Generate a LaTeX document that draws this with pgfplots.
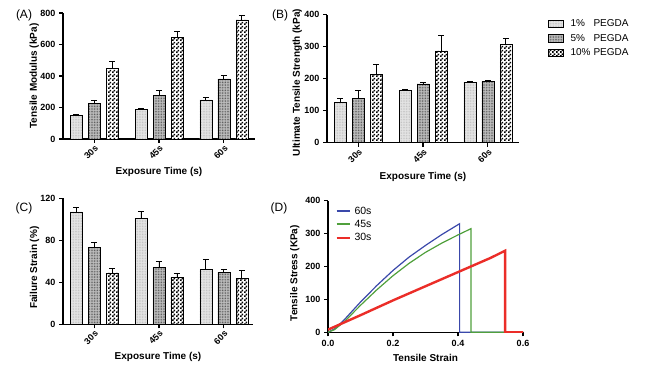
\documentclass[border=0pt]{standalone}
\usepackage{fontspec}
\setmainfont{Liberation Sans}
\usepackage{pgfplots}
\pgfplotsset{compat=1.18}
\usetikzlibrary{patterns}
\pgfdeclarepatternformonly{smallcheck}{\pgfqpoint{0pt}{0pt}}{\pgfqpoint{4pt}{4pt}}{\pgfqpoint{4pt}{4pt}}{%
  \pgfpathrectangle{\pgfqpoint{0pt}{0pt}}{\pgfqpoint{2pt}{2pt}}%
  \pgfpathrectangle{\pgfqpoint{2pt}{2pt}}{\pgfqpoint{2pt}{2pt}}%
  \pgfusepath{fill}}
\pgfdeclarepatternformonly{finedots}{\pgfqpoint{-0.5pt}{-0.5pt}}{\pgfqpoint{0.5pt}{0.5pt}}{\pgfqpoint{1.6pt}{1.6pt}}{%
  \pgfpathcircle{\pgfpointorigin}{0.45pt}\pgfusepath{fill}}
\definecolor{c60}{RGB}{58,72,170}
\definecolor{c45}{RGB}{80,160,60}
\definecolor{c30}{RGB}{235,45,40}
\pgfplotsset{
  common/.style={
    scale only axis,
    axis x line*=bottom, axis y line*=left,
    tick align=outside, major tick length=4pt,
    tick style={black, line width=1.2pt},
    axis line style={line width=1.3pt},
    /pgf/number format/assume math mode=true,
    tick label style={font=\fontsize{9}{10}\selectfont\bfseries},
    label style={font=\fontsize{10}{12}\selectfont\bfseries},
    ylabel style={anchor=center},
    xlabel style={anchor=center},
  },
  barax/.style={
    common, width=192pt, height=126pt,
    ybar=6pt, bar width=12pt,
    xmin=-0.48, xmax=2.48, ymin=0,
    xtick={0,1,2}, xticklabels={30s,45s,60s},
    x tick label style={rotate=45, anchor=north east, inner sep=1pt},
    xlabel={Exposure Time (s)},
    xlabel style={at={(axis description cs:0.5,-0.265)}},
    ylabel style={at={(axis description cs:-0.15,0.5)}},
    error bars/y dir=plus, error bars/y explicit,
    error bars/error bar style={black, line width=0.9pt},
    error bars/error mark options={rotate=90, black, mark size=3pt, line width=0.9pt},
  },
  p1/.style={draw=black, line width=0.5pt, fill=gray!20, postaction={pattern=finedots, pattern color=gray!55},
    legend image code/.code={\draw[##1] (0pt,-3.5pt) rectangle (15pt,4pt);}},
  p2/.style={draw=black, line width=0.5pt, fill=gray!50, postaction={pattern=finedots, pattern color=black!75},
    legend image code/.code={\draw[##1] (0pt,-3.5pt) rectangle (15pt,4pt);}},
  p3/.style={draw=black, line width=0.5pt, fill=white, postaction={pattern=smallcheck, pattern color=black},
    legend image code/.code={\draw[##1] (0pt,-3.5pt) rectangle (15pt,4pt);}},
}
\begin{document}
\begin{tikzpicture}
\path[use as bounding box] (0,0) rectangle (651pt,369pt);
% (A)
\begin{axis}[barax, at={(63pt,230pt)}, anchor=south west,
  ymax=800, ytick={0,200,400,600,800},
  ylabel={Tensile Modulus (kPa)}]
\addplot[p1] coordinates {(0,150) +- (0,5) (1,188) +- (0,4) (2,248) +- (0,15)};
\addplot[p2] coordinates {(0,226) +- (0,20) (1,275) +- (0,32) (2,381) +- (0,25)};
\addplot[p3] coordinates {(0,449) +- (0,42) (1,646) +- (0,35) (2,756) +- (0,27)};
\end{axis}
% (B)
\begin{axis}[barax, at={(327pt,226.3pt)}, anchor=south west, height=128pt,
  ymax=400, ytick={0,100,200,300,400},
  ylabel={Ultimate Tensile Strength (kPa)},
  ylabel style={at={(axis description cs:-0.155,0.47)}},
  legend style={at={(1.145,0.985)}, anchor=north west, draw=none, fill=none,
    font=\fontsize{10}{12}\selectfont, row sep=2pt, inner sep=1pt},
  legend cell align=left]
\addplot[p1] coordinates {(0,125) +- (0,14) (1,163) +- (0,3) (2,189) +- (0,2)};
\addplot[p2] coordinates {(0,139) +- (0,23) (1,184) +- (0,3) (2,192) +- (0,2)};
\addplot[p3] coordinates {(0,213) +- (0,30) (1,287) +- (0,49) (2,308) +- (0,19)};
\legend{\hspace{5pt}\makebox[23pt][l]{1\%}PEGDA, \hspace{5pt}\makebox[23pt][l]{5\%}PEGDA, \hspace{5pt}\makebox[23pt][l]{10\%}PEGDA}
\end{axis}
% (C)
\begin{axis}[barax, at={(63pt,44.7pt)}, anchor=south west, width=190pt,
  xmax=2.45,
  ymax=120, ytick={0,40,80,120},
  ylabel={Failure Strain (\%)},
  ylabel style={at={(axis description cs:-0.15,0.45)}},
  xlabel style={at={(axis description cs:0.5,-0.26)}}]
\addplot[p1] coordinates {(0,107) +- (0,4) (1,101) +- (0,6) (2,52) +- (0,10)};
\addplot[p2] coordinates {(0,73) +- (0,5) (1,54) +- (0,6) (2,49.5) +- (0,2.5)};
\addplot[p3] coordinates {(0,49) +- (0,4) (1,45) +- (0,3) (2,44) +- (0,7)};
\end{axis}
% (D)
\begin{axis}[common, at={(328pt,36.7pt)}, anchor=south west, width=195pt, height=131.6pt,
  xmin=0, xmax=0.6, ymin=0, ymax=400,
  xtick={0,0.2,0.4,0.6}, ytick={0,100,200,300,400},
  xticklabel style={/pgf/number format/.cd, fixed, fixed zerofill, precision=1},
  xlabel={Tensile Strain}, ylabel={Tensile Stress (KPa)},
  xlabel style={at={(axis description cs:0.5,-0.195)}},
  ylabel style={at={(axis description cs:-0.17,0.45)}},
  legend style={at={(0.035,0.975)}, anchor=north west, draw=none, fill=none,
    font=\fontsize{10.5}{12}\selectfont, row sep=0.5pt, inner sep=0.5pt},
  legend cell align=left]
\addplot[c60, line width=1.2pt,
  legend image code/.code={\draw[c60, line width=2pt] (0pt,0pt) -- (13pt,0pt);}] coordinates {
 (0,0) (0.02,10) (0.05,38) (0.1,92) (0.15,142) (0.2,188) (0.25,229) (0.3,264) (0.35,297) (0.4,327) (0.405,330) (0.405,0) (0.6,0)};
\addplot[c45, line width=1.2pt,
  legend image code/.code={\draw[c45, line width=2pt] (0pt,0pt) -- (13pt,0pt);}] coordinates {
 (0,0) (0.02,8) (0.05,32) (0.1,82) (0.15,129) (0.2,172) (0.25,210) (0.3,243) (0.35,271) (0.4,296) (0.44,315) (0.44,0) (0.6,0)};
\addplot[c30, line width=2.4pt,
  legend image code/.code={\draw[c30, line width=2pt] (0pt,0pt) -- (13pt,0pt);}] coordinates {
 (0,8) (0.1,52) (0.2,97) (0.3,140) (0.4,183) (0.5,226) (0.545,248) (0.545,0) (0.6,0)};
\legend{\hspace{2pt}60s,\hspace{2pt}45s,\hspace{2pt}30s}
\end{axis}
\node[font=\fontsize{12}{14}\selectfont] at (24pt,354pt) {(A)};
\node[font=\fontsize{12}{14}\selectfont] at (280pt,354pt) {(B)};
\node[font=\fontsize{12}{14}\selectfont] at (24pt,161pt) {(C)};
\node[font=\fontsize{12}{14}\selectfont] at (279pt,161pt) {(D)};
\end{tikzpicture}
\end{document}
